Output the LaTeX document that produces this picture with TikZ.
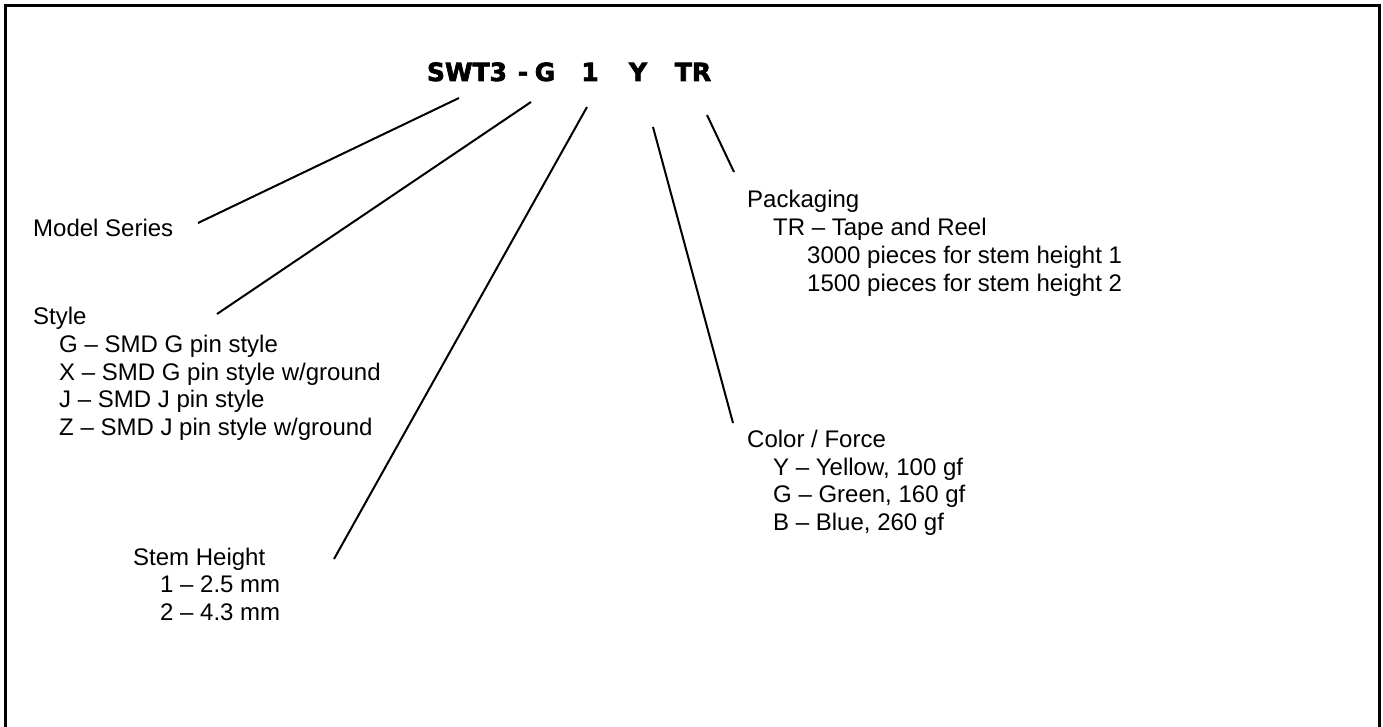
\documentclass[tikz,border=0pt]{standalone}
\usepackage{fontspec}
\setmainfont{Liberation Sans}
\newfontfamily\partfont{DejaVu Sans Bold}[FakeBold=2.5]
\tikzset{
    lbl/.style={anchor=base west, inner sep=0pt, font=\fontsize{24}{27.6}\selectfont},
    part/.style={anchor=base, inner sep=0pt, font=\partfont\fontsize{25}{30}\selectfont},
    lead/.style={line width=2pt}
}

\begin{document}
\begin{tikzpicture}[x=1pt, y=-1pt]
        \useasboundingbox (0,0) rectangle (1383,727);
        \draw[line width=3pt] (5,727) -- (5,6) -- (1379,6) -- (1379,727);
        % part number
        \node[part] (series) at (467,81) {SWT3};
        \node[part] (dash) at (523,81) {-};
        \node[part] (stylecode) at (545,81) {G};
        \node[part] (stemcode) at (590,81) {1};
        \node[part] (colorcode) at (638,81) {Y};
        \node[part] (packcode) at (693,81) {TR};
        % fields
        \node[lbl] (model) at (33,237) {Model Series};
        \node[lbl] (style) at (33,324) {Style};
        \node[lbl] (styleG) at (59,352) {G – SMD G pin style};
        \node[lbl] (styleX) at (59,380) {X – SMD G pin style w/ground};
        \node[lbl] (styleJ) at (59,407) {J – SMD J pin style};
        \node[lbl] (styleZ) at (59,435) {Z – SMD J pin style w/ground};
        \node[lbl] (stem) at (133,565) {Stem Height};
        \node[lbl] (stemA) at (160,592) {1 – 2.5 mm};
        \node[lbl] (stemB) at (160,620) {2 – 4.3 mm};
        \node[lbl] (color) at (747,447) {Color / Force};
        \node[lbl] (colorY) at (773,475) {Y – Yellow, 100 gf};
        \node[lbl] (colorG) at (773,502) {G – Green, 160 gf};
        \node[lbl] (colorB) at (773,530) {B – Blue, 260 gf};
        \node[lbl] (pack) at (747,208) {Packaging};
        \node[lbl] (packTR) at (773,236) {TR – Tape and Reel};
        \node[lbl] (packA) at (807,264) {3000 pieces for stem height 1};
        \node[lbl] (packB) at (807,291) {1500 pieces for stem height 2};
        % leader lines
        \coordinate (seriesTip) at (459,98);
        \coordinate (modelEnd) at (198,223);
        \coordinate (styleTip) at (531,102);
        \coordinate (styleEnd) at (217,314);
        \coordinate (stemTip) at (587,107);
        \coordinate (stemEnd) at (334,559);
        \coordinate (colorTip) at (653,127);
        \coordinate (colorEnd) at (733,423);
        \coordinate (packTip) at (707,115);
        \coordinate (packEnd) at (734,172);
        \draw[lead] (seriesTip) -- (modelEnd);
        \draw[lead] (styleTip) -- (styleEnd);
        \draw[lead] (stemTip) -- (stemEnd);
        \draw[lead] (colorTip) -- (colorEnd);
        \draw[lead] (packTip) -- (packEnd);
    \end{tikzpicture}
\end{document}
